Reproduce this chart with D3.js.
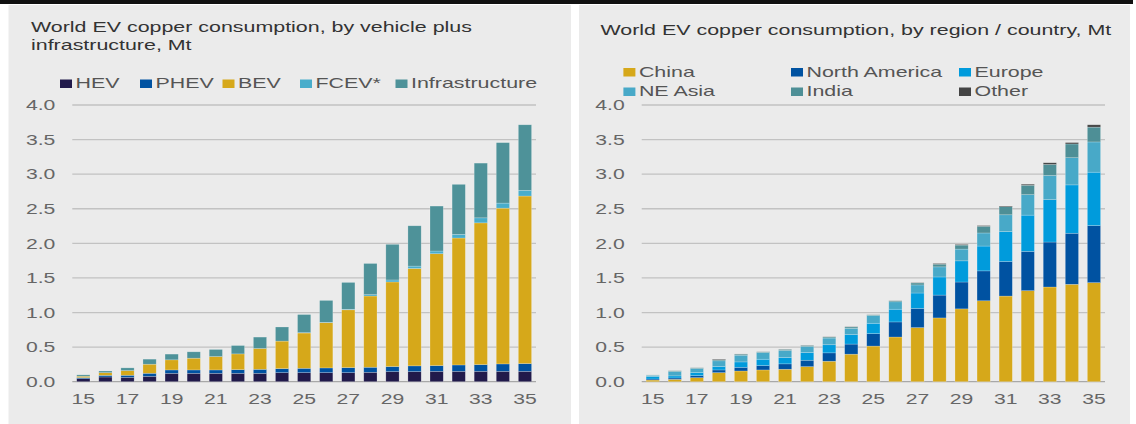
<!DOCTYPE html>
<html lang="en">
<head>
    <meta charset="UTF-8">
    <title>World EV copper consumption</title>
    <style>
        body {
            margin: 0;
            background-color: #ffffff;
            font-family: 'Liberation Sans', Arial, sans-serif;
        }
        svg text {
            font-family: 'Liberation Sans', Arial, sans-serif;
        }
    </style>
    <script src="https://d3js.org/d3.v7.min.js"></script>
</head>
<body>
<svg id="chart" width="1136" height="424"></svg>
<script>
    // Years on the x axis (20xx)
    const years = ["15","16","17","18","19","20","21","22","23","24","25","26","27","28","29","30","31","32","33","34","35"];
    const yTicks = [0, 0.5, 1, 1.5, 2, 2.5, 3, 3.5, 4];

    // Left chart: by vehicle plus infrastructure, Mt
    const hev   = [0.044,0.068,0.063,0.078,0.121,0.121,0.121,0.121,0.121,0.131,0.131,0.131,0.131,0.136,0.146,0.146,0.150,0.150,0.150,0.150,0.150];
    const phev  = [0.015,0.024,0.030,0.044,0.049,0.049,0.049,0.053,0.058,0.058,0.063,0.068,0.073,0.073,0.073,0.083,0.083,0.092,0.097,0.107,0.112];
    const bev   = [0.020,0.039,0.068,0.131,0.146,0.170,0.194,0.228,0.301,0.398,0.510,0.655,0.835,1.030,1.223,1.408,1.617,1.835,2.049,2.252,2.422];
    const fcev  = [0,0,0,0,0,0,0,0,0,0,0.005,0.005,0.008,0.020,0.029,0.034,0.039,0.053,0.073,0.073,0.083];
    const infra = [0.020,0.024,0.039,0.073,0.083,0.092,0.102,0.121,0.165,0.204,0.262,0.316,0.388,0.450,0.515,0.583,0.650,0.723,0.791,0.874,0.947];

    // Right chart: by region / country, Mt
    const china  = [0.024,0.034,0.058,0.131,0.155,0.170,0.180,0.218,0.296,0.398,0.515,0.646,0.782,0.922,1.053,1.170,1.238,1.316,1.369,1.408,1.432];
    const northAmerica = [0.015,0.020,0.030,0.039,0.053,0.063,0.078,0.092,0.121,0.146,0.180,0.218,0.277,0.330,0.388,0.432,0.500,0.568,0.650,0.738,0.825];
    const europe = [0.034,0.030,0.044,0.049,0.078,0.092,0.092,0.112,0.117,0.136,0.150,0.184,0.223,0.262,0.306,0.359,0.432,0.524,0.612,0.699,0.772];
    const neAsia = [0.020,0.063,0.058,0.083,0.097,0.097,0.102,0.087,0.097,0.092,0.112,0.107,0.117,0.146,0.170,0.189,0.243,0.296,0.350,0.393,0.437];
    const india  = [0.004,0.010,0.010,0.015,0.015,0.010,0.015,0.015,0.015,0.020,0.010,0.015,0.029,0.039,0.058,0.097,0.117,0.136,0.160,0.199,0.214];
    const other  = [0.001,0.002,0.002,0.010,0.003,0.003,0.003,0.003,0.003,0.003,0.003,0.003,0.005,0.010,0.010,0.010,0.010,0.015,0.024,0.020,0.034];

    const svg = d3.select("#chart");
    const SX = 1.53;     // titles / legend are horizontally stretched in the reference
    const SX_TICK = 1.41;

    // black strip along the top and the two grey panels
    svg.append("rect").attr("x", 0).attr("y", 0).attr("width", 1133).attr("height", 4).attr("fill", "#111");
    svg.append("rect").attr("x", 8.5).attr("y", 5).attr("width", 562.5).attr("height", 419).attr("fill", "#ebebeb");
    svg.append("rect").attr("x", 579).attr("y", 5).attr("width", 551).attr("height", 419).attr("fill", "#ebebeb");

    // stretched text helper
    function label(g, x, y, txt, size, color, anchor) {
        return g.append("text")
            .attr("transform", `translate(${x},${y}) scale(${SX},1)`)
            .attr("text-anchor", anchor || "start")
            .attr("font-size", size)
            .attr("fill", color)
            .text(txt);
    }

    function drawPanel(p) {
        const g = svg.append("g");

        p.title.forEach((t, i) => label(g, p.titleX, p.titleY + i * 18, t, 14, "#333"));

        // legend
        p.series.forEach((s, i) => {
            const [lx, ly] = p.legendPos[i];
            g.append("rect").attr("x", lx).attr("y", ly - 8.5).attr("width", 12).attr("height", 8.5).attr("fill", s.color);
            label(g, lx + 15.5, ly, s.name, 14, "#555");
        });

        const x = d3.scaleBand().domain(years).range([p.x0, p.x1]).paddingInner(0.4).paddingOuter(0.2);
        const y = d3.scaleLinear().domain([0, 4]).range([381.7, 105]);

        // gridlines
        g.append("g").selectAll("line").data(yTicks).enter().append("line")
            .attr("x1", p.x0).attr("x2", p.x1)
            .attr("y1", d => y(d)).attr("y2", d => y(d))
            .attr("stroke", d => d === 0 ? "#a8a8a8" : "#c2c2c2")
            .attr("stroke-width", 1.3);

        // y axis labels
        const ya = g.append("g").attr("transform", `translate(${p.x0},0)`)
            .call(d3.axisLeft(y).tickValues(yTicks).tickFormat(d3.format(".1f")).tickSize(0));
        ya.select(".domain").remove();
        ya.selectAll("text")
            .attr("x", null)
            .attr("transform", `translate(-17,0) scale(${SX_TICK},1)`)
            .attr("font-size", 15).attr("font-family", "'Liberation Sans', Arial, sans-serif")
            .attr("fill", "#666");

        // x axis labels, every other year
        const xa = g.append("g").attr("transform", "translate(0,381.7)")
            .call(d3.axisBottom(x).tickValues(years.filter((d, i) => i % 2 === 0)).tickSize(0));
        xa.select(".domain").remove();
        xa.selectAll("text")
            .attr("y", null).attr("dy", null)
            .attr("transform", `translate(0,22.5) scale(${SX_TICK},1)`)
            .attr("font-size", 15).attr("font-family", "'Liberation Sans', Arial, sans-serif")
            .attr("fill", "#666");

        // stacked bars
        const rows = years.map((yr, i) => {
            const r = {year: yr};
            p.series.forEach(s => r[s.name] = s.values[i]);
            return r;
        });
        const stacked = d3.stack().keys(p.series.map(s => s.name))(rows);

        g.append("g").selectAll("g").data(stacked).enter().append("g")
            .attr("fill", (d, i) => p.series[i].color)
            .selectAll("rect").data(d => d).enter().append("rect")
            .attr("x", d => x(d.data.year))
            .attr("width", x.bandwidth())
            .attr("y", d => y(d[1]))
            .attr("height", d => Math.max(0, y(d[0]) - y(d[1])))
            .attr("stroke", "rgba(255,255,255,0.35)")
            .attr("stroke-width", 0.6);
    }

    drawPanel({
        title: ["World EV copper consumption, by vehicle plus", "infrastructure, Mt"],
        titleX: 31, titleY: 32,
        x0: 72.3, x1: 536,
        series: [
            {name: "HEV", values: hev, color: "#211a4b"},
            {name: "PHEV", values: phev, color: "#0052a1"},
            {name: "BEV", values: bev, color: "#d6a81a"},
            {name: "FCEV*", values: fcev, color: "#48adcb"},
            {name: "Infrastructure", values: infra, color: "#4e9299"}
        ],
        legendPos: [[60, 88], [140, 88], [222.5, 88], [300, 88], [395.5, 88]]
    });

    drawPanel({
        title: ["World EV copper consumption, by region / country, Mt"],
        titleX: 600.5, titleY: 35,
        x0: 641.7, x1: 1105,
        series: [
            {name: "China", values: china, color: "#d6a81a"},
            {name: "North America", values: northAmerica, color: "#0052a1"},
            {name: "Europe", values: europe, color: "#009bdc"},
            {name: "NE Asia", values: neAsia, color: "#48a9c8"},
            {name: "India", values: india, color: "#4e8f96"},
            {name: "Other", values: other, color: "#444"}
        ],
        legendPos: [[623.4, 76.5], [791, 76.5], [959, 76.5], [623.4, 96], [791, 96], [959, 96]]
    });
</script>
</body>
</html>
